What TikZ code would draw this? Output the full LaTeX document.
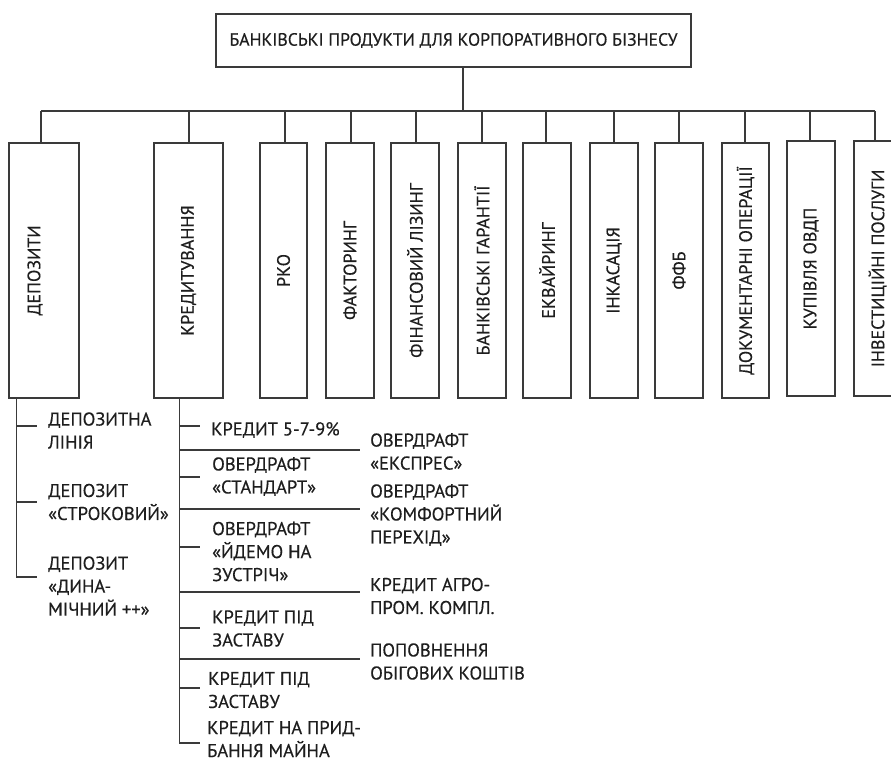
\documentclass[tikz,border=0pt]{standalone}
\usepackage{fontspec}
\setmainfont{PT Sans}[FakeBold=0.35]
\usetikzlibrary{calc}
\definecolor{linec}{HTML}{3A3A3A}
\definecolor{txtc}{HTML}{1E1E1E}
\begin{document}
\begin{tikzpicture}[x=1pt,y=-1pt,
  ln/.style={draw=linec,line width=1.3pt},
  vbox/.style={draw=linec,line width=1.3pt,inner sep=0pt,text=txtc,
    font=\fontsize{18}{22}\selectfont},
  lbl/.style={inner sep=0pt,anchor=west,align=left,text=txtc,
    font=\fontsize{18.5}{23}\selectfont}]
\useasboundingbox (0,0) rectangle (891,761);
\fill[white] (0,0) rectangle (891,761);

% title
\node[vbox,minimum width=475pt,minimum height=53pt,font=\fontsize{17.7}{22}\selectfont] (title) at (453.5,40.5)
  {БАНКІВСЬКІ ПРОДУКТИ ДЛЯ КОРПОРАТИВНОГО БІЗНЕСУ};

% category boxes
\node[vbox,minimum width=70pt,minimum height=255pt] (dep) at (44,270.5)
  {\rotatebox{90}{ДЕПОЗИТИ}\hspace*{18pt}};
\node[vbox,minimum width=69pt,minimum height=255pt] (kred) at (188.5,270.5)
  {\rotatebox{90}{КРЕДИТУВАННЯ}};
\node[vbox,minimum width=47pt,minimum height=255pt] (rko) at (283.5,270.5)
  {\rotatebox{90}{РКО}};
\node[vbox,minimum width=48pt,minimum height=255pt] (fakt) at (350,270.5)
  {\rotatebox{90}{ФАКТОРИНГ}};
\node[vbox,minimum width=48pt,minimum height=255pt] (liz) at (415,270.5)
  {\rotatebox{90}{ФІНАНСОВИЙ ЛІЗИНГ}};
\node[vbox,minimum width=48pt,minimum height=255pt] (gar) at (482,270.5)
  {\rotatebox{90}{БАНКІВСЬКІ ГАРАНТІЇ}};
\node[vbox,minimum width=48pt,minimum height=255pt] (ekv) at (547,270.5)
  {\rotatebox{90}{ЕКВАЙРИНГ}};
\node[vbox,minimum width=48pt,minimum height=255pt] (ink) at (614,270.5)
  {\rotatebox{90}{ІНКАСАЦІЯ}};
\node[vbox,minimum width=48pt,minimum height=255pt] (ffb) at (679,270.5)
  {\rotatebox{90}{ФФБ}};
\node[vbox,minimum width=47pt,minimum height=255pt] (dok) at (745.5,270.5)
  {\rotatebox{90}{ДОКУМЕНТАРНІ ОПЕРАЦІЇ}};
\node[vbox,minimum width=48pt,minimum height=255pt] (ovdp) at (811,268.5)
  {\rotatebox{90}{КУПІВЛЯ ОВДП}};
\node[vbox,minimum width=47pt,minimum height=255pt] (inv) at (877.5,268.5)
  {\rotatebox{90}{ІНВЕСТИЦІЙНІ ПОСЛУГИ}};

% bus
\coordinate (bus) at (0,111);
\draw[ln] ([xshift=9.5pt]title.south) -- ([xshift=9.5pt]title.south |- bus);
\draw[ln] ([xshift=-3pt]dep.north |- bus) -- ([xshift=-2.5pt]inv.north |- bus);
\foreach \n/\s in {dep/-3,kred/0.5,rko/1.5,fakt/1,liz/1,gar/0,ekv/-1,ink/0,ffb/0,dok/-0.5,ovdp/-1,inv/-2.5}{
  \draw[ln] ([xshift=\s pt]\n.north) -- ([xshift=\s pt]\n.north |- bus);
}

% deposit list
\coordinate (dt) at ([xshift=8pt]dep.south west);
\node[lbl] (d1) at (48,430.5) {ДЕПОЗИТНА\\ЛІНІЯ};
\node[lbl] (d2) at (48,502) {ДЕПОЗИТ\\«СТРОКОВИЙ»};
\node[lbl] (d3) at (48,586) {ДЕПОЗИТ\\«ДИНА-\\МІЧНИЙ ++»};
\draw[ln] (dt) |- ([xshift=-11pt,yshift=9pt]d3.west);
\draw[ln] (dt |- 0,426) -- ([xshift=-11pt]d1.west |- 0,426);
\draw[ln] (dt |- d2.west) -- ([xshift=-11pt]d2.west);

% credit list, left column
\coordinate (kt) at ([xshift=26pt]kred.south west);
\node[lbl] (k1) at (211,430) {КРЕДИТ 5-7-9\%};
\node[lbl] (k2) at (212,476.5) {ОВЕРДРАФТ\\«СТАНДАРТ»};
\node[lbl] (k3) at (212,551.5) {ОВЕРДРАФТ\\«ЙДЕМО НА\\ЗУСТРІЧ»};
\node[lbl] (k4) at (212,628.5) {КРЕДИТ ПІД\\ЗАСТАВУ};
\node[lbl] (k5) at (208,690) {КРЕДИТ ПІД\\ЗАСТАВУ};
\node[lbl] (k6) at (207,739) {КРЕДИТ НА ПРИД-\\БАННЯ МАЙНА};
\draw[ln] (kt) |- ([xshift=-7pt]k6.west |- 0,743);
\draw[ln] (kt |- 0,426) -- ([xshift=-11pt]k1.west |- 0,426);
\draw[ln] (kt |- 0,477) -- ([xshift=-12pt]k2.west |- 0,477);
\draw[ln] (kt |- 0,547) -- ([xshift=-12pt]k3.west |- 0,547);
\draw[ln] (kt |- 0,628) -- ([xshift=-12pt]k4.west |- 0,628);
\draw[ln] (kt |- 0,688) -- ([xshift=-8pt]k5.west |- 0,688);

% credit list, right column
\node[lbl] (r1) at (370,451.5) {ОВЕРДРАФТ\\«ЕКСПРЕС»};
\node[lbl] (r2) at (370,515) {ОВЕРДРАФТ\\«КОМФОРТНИЙ\\ПЕРЕХІД»};
\node[lbl] (r3) at (370,596) {КРЕДИТ АГРО-\\ПРОМ. КОМПЛ.};
\node[lbl] (r4) at (370,661.5) {ПОПОВНЕННЯ\\ОБІГОВИХ КОШТІВ};
\draw[ln] (kt |- 0,450) -- ([xshift=-10pt]r1.west |- 0,450);
\draw[ln] (kt |- 0,509) -- ([xshift=-10pt]r2.west |- 0,509);
\draw[ln] (kt |- 0,592) -- ([xshift=-10pt]r3.west |- 0,592);
\draw[ln] (kt |- 0,659) -- ([xshift=-10pt]r4.west |- 0,659);
\end{tikzpicture}
\end{document}
